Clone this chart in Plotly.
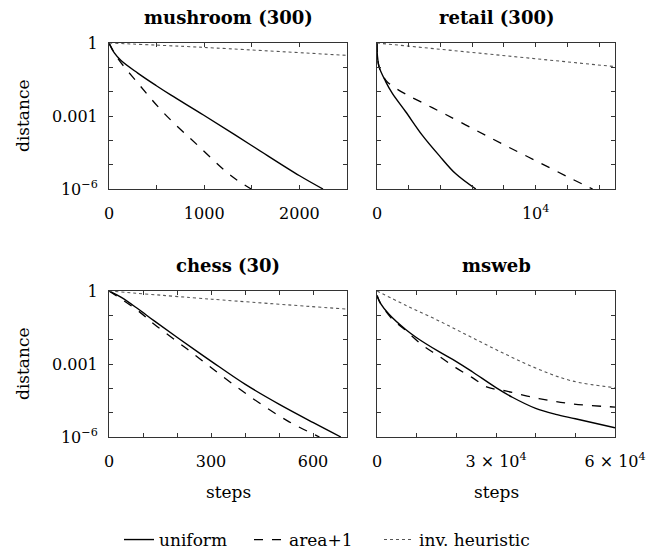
import plotly.graph_objects as go

# ---------------- data ----------------
mush_uni_x = [0, 56, 126, 302, 494, 652, 992, 1494, 2002, 2248]
mush_uni_y = [1, 0.39, 0.19, 0.058, 0.018, 0.0072, 0.0011, 6.3e-5, 3.5e-6, 1e-6]
mush_area_x = [0, 91, 319, 582, 933, 1283, 1494]
mush_area_y = [1, 0.24, 0.019, 0.00126, 6.2e-5, 3.5e-6, 1e-6]
mush_inv_x = [0, 992, 2500]
mush_inv_y = [1, 0.66, 0.31]

ret_uni_x = [0, 21, 126, 547, 968, 1809, 2861, 3913, 4965, 6228]
ret_uni_y = [1, 0.33, 0.107, 0.026, 0.0085, 0.0015, 1.6e-4, 2.4e-5, 4.2e-6, 1e-6]
ret_area_x = [0, 126, 547, 968, 1809, 3072, 4334, 6228, 8121, 10225, 12329, 13591]
ret_area_y = [1, 0.107, 0.03, 0.017, 0.0079, 0.003, 0.00115, 2.6e-4, 6e-5, 1.23e-5, 2.5e-6, 1e-6]
ret_inv_x = [0, 15000]
ret_inv_y = [1, 0.107]

chess_uni_x = [0, 35, 84, 133, 202, 302, 401, 501, 601, 682]
chess_uni_y = [1, 0.56, 0.19, 0.059, 0.012, 0.00126, 1.45e-4, 2.2e-5, 3.9e-6, 1e-6]
chess_area_x = [0, 84, 133, 231, 329, 427, 525, 619]
chess_area_y = [1, 0.16, 0.043, 0.004, 3.5e-4, 3.5e-5, 4.6e-6, 1e-6]
chess_inv_x = [0, 302, 700]
chess_inv_y = [1, 0.46, 0.18]

ms_uni_x = [0, 924, 3025, 7227, 10000, 15630, 20000, 24034, 30000, 34118, 40000, 45042, 50000, 60000]
ms_uni_y = [0.65, 0.3, 0.11, 0.026, 0.012, 0.0032, 0.00126, 4.8e-4, 1.07e-4, 4.3e-5, 1.5e-5, 8.5e-6, 5.6e-6, 2.4e-6]
ms_area_x = [0, 924, 3866, 7227, 11429, 15630, 19832, 24034, 27815, 32437, 40840, 49244, 60000]
ms_area_y = [0.65, 0.3, 0.069, 0.024, 0.006, 0.0021, 7.1e-4, 2.75e-4, 1.12e-4, 7.8e-5, 3.8e-5, 2.3e-5, 1.7e-5]
ms_inv_x = [0, 7227, 15630, 24034, 32437, 40840, 49244, 60000]
ms_inv_y = [1, 0.26, 0.059, 0.012, 0.0025, 6e-4, 2e-4, 1.07e-4]

titles = ["mushroom (300)", "retail (300)", "chess (30)", "msweb"]
series_names = ["uniform", "area+1", "inv. heuristic"]

y_tickvals = [1, 0.1, 0.01, 0.001, 1e-4, 1e-5, 1e-6]
y_ticktext = ["1", "", "", "0.001", "", "", "10<sup>−6</sup>"]

x_ticks = [
    ([0, 500, 1000, 1500, 2000, 2500], ["0", "", "1000", "", "2000", ""], [0, 2500]),
    ([0, 2000, 4000, 6000, 8000, 10000, 12000, 14000], ["0", "", "", "", "", "10<sup>4</sup>", "", ""], [0, 15000]),
    ([0, 100, 200, 300, 400, 500, 600, 700], ["0", "", "", "300", "", "", "600", ""], [0, 700]),
    ([0, 10000, 20000, 30000, 40000, 50000, 60000], ["0", "", "", "3 × 10<sup>4</sup>", "", "", "6 × 10<sup>4</sup>"], [0, 60000]),
]

panels = [
    [(mush_uni_x, mush_uni_y), (mush_area_x, mush_area_y), (mush_inv_x, mush_inv_y)],
    [(ret_uni_x, ret_uni_y), (ret_area_x, ret_area_y), (ret_inv_x, ret_inv_y)],
    [(chess_uni_x, chess_uni_y), (chess_area_x, chess_area_y), (chess_inv_x, chess_inv_y)],
    [(ms_uni_x, ms_uni_y), (ms_area_x, ms_area_y), (ms_inv_x, ms_inv_y)],
]

# ---------------- layout geometry ----------------
W, H = 660, 557
OFF = 8  # page body margin


def px(x):
    return (x - OFF) / W


def py(y):
    return 1 - (y - OFF) / H


xdoms = [[px(109), px(347)], [px(377), px(615)]]
ydoms = [[py(189), py(43)], [py(437), py(291)]]

FONT = "DejaVu Serif"
styles = [dict(color="black", width=1.4, dash="solid", shape="spline", smoothing=1.0),
          dict(color="black", width=1.3, dash="dash", shape="spline", smoothing=1.0),
          dict(color="#555555", width=1.1, dash="dot", shape="spline", smoothing=1.0)]
legend_widths = [85, 85, 125]

fig = go.Figure()
layout = {}
for i in range(4):
    r, c = divmod(i, 2)
    xa = "x" if i == 0 else f"x{i+1}"
    ya = "y" if i == 0 else f"y{i+1}"
    for j, (xs, ys) in enumerate(panels[i]):
        fig.add_trace(go.Scatter(x=xs, y=ys, mode="lines", line=styles[j],
                                 name=series_names[j], showlegend=(i == 0),
                                 legendwidth=legend_widths[j],
                                 xaxis=xa, yaxis=ya))
    tv, tt, rng = x_ticks[i]
    axcommon = dict(showline=True, linecolor="#333333", linewidth=1, mirror="ticks",
                    ticks="inside", ticklen=4, tickcolor="#333333", showgrid=False,
                    zeroline=False, automargin=False,
                    tickfont=dict(family=FONT, size=16, color="black"))
    layout["xaxis" if i == 0 else f"xaxis{i+1}"] = dict(
        domain=xdoms[c], anchor=ya, range=rng, tickmode="array", tickvals=tv, ticktext=tt,
        ticklabelstandoff=10, **axcommon)
    layout["yaxis" if i == 0 else f"yaxis{i+1}"] = dict(
        domain=ydoms[r], anchor=xa, type="log", range=[-6, 0], tickmode="array",
        tickvals=y_tickvals, ticktext=y_ticktext, showticklabels=(c == 0),
        ticklabelstandoff=7, **axcommon)

annotations = []
title_y = [18, 18, 265, 265]
for i, t in enumerate(titles):
    r, c = divmod(i, 2)
    cx = (xdoms[c][0] + xdoms[c][1]) / 2
    annotations.append(dict(text=f"<b>{t}</b>", x=cx, y=py(title_y[i]), xref="paper", yref="paper",
                            showarrow=False, xanchor="center", yanchor="middle", borderpad=0,
                            font=dict(family=FONT, size=18, color="black")))
for r in range(2):
    annotations.append(dict(text="distance", x=px(23), y=(ydoms[r][0] + ydoms[r][1]) / 2,
                            xref="paper", yref="paper", showarrow=False, textangle=-90,
                            xanchor="center", yanchor="middle",
                            font=dict(family=FONT, size=17, color="black")))
for c in range(2):
    annotations.append(dict(text="steps", x=(xdoms[c][0] + xdoms[c][1]) / 2, y=py(492),
                            xref="paper", yref="paper", showarrow=False,
                            xanchor="center", yanchor="middle",
                            font=dict(family=FONT, size=17, color="black")))

fig.update_layout(
    width=W, height=H, margin=dict(l=0, r=0, t=0, b=0, autoexpand=False),
    paper_bgcolor="white", plot_bgcolor="white",
    annotations=annotations,
    legend=dict(orientation="h", x=px(119), xanchor="left", y=py(540), yanchor="middle",
                font=dict(family=FONT, size=17, color="black"), itemwidth=30,
                bgcolor="rgba(0,0,0,0)"),
    **layout,
)

fig.write_html("out.html")
